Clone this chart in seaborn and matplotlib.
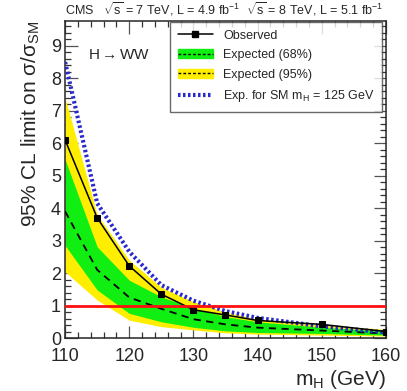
import numpy as np
import pandas as pd
import seaborn as sns
import matplotlib
matplotlib.use('Agg')
import matplotlib.pyplot as plt
from matplotlib.ticker import MultipleLocator
from matplotlib.lines import Line2D
from matplotlib.patches import Patch

# masses (GeV) and limits
mass = [110, 115, 120, 125, 130, 135, 140, 150, 160]
observed = [6.1, 3.7, 2.22, 1.35, 0.87, 0.71, 0.54, 0.42, 0.2]
expected = [3.9, 2.1, 1.25, 0.9, 0.58, 0.42, 0.32, 0.23, 0.14]
band68_lo = [2.85, 1.48, 0.76, 0.5, 0.33, 0.22, 0.17, 0.14, 0.09]
band68_hi = [5.5, 2.81, 1.78, 1.27, 0.92, 0.66, 0.5, 0.33, 0.22]
band95_lo = [2.04, 1.17, 0.55, 0.35, 0.25, 0.16, 0.12, 0.09, 0.06]
band95_hi = [7.4, 3.8, 2.4, 1.56, 1.12, 0.8, 0.58, 0.4, 0.27]
exp_sm125 = [8.5, 4.15, 2.66, 1.63, 1.15, 0.83, 0.62, 0.36, 0.17]

df = pd.DataFrame({'mass': mass, 'obs': observed, 'exp': expected,
                   'sm': exp_sm125})

sns.set_style('ticks')
plt.rcParams['font.family'] = ['Liberation Sans', 'DejaVu Sans']
plt.rcParams['mathtext.fontset'] = 'custom'
plt.rcParams['mathtext.rm'] = 'Liberation Sans'
plt.rcParams['mathtext.it'] = 'Liberation Sans'

fig = plt.figure(figsize=(4.07, 3.91), dpi=100)
ax = fig.add_axes([0.160, 0.1355, 0.788, 0.812])

yellow = '#ffee00'
green = '#11ee11'
ax.fill_between(mass, band95_lo, band95_hi, color=yellow, lw=0, zorder=1)
ax.fill_between(mass, band68_lo, band68_hi, color=green, lw=0, zorder=2)
sns.lineplot(data=df, x='mass', y='exp', ax=ax, color='black', lw=1.3,
             linestyle=(0, (4, 3)), zorder=3)
sns.lineplot(data=df, x='mass', y='sm', ax=ax, color='#2a2acc', lw=3,
             linestyle=(0, (0.6, 0.6)), zorder=4)
sns.lineplot(data=df, x='mass', y='obs', ax=ax, color='black', lw=1.1,
             marker='s', markersize=4.5, markeredgecolor='black', zorder=5)
ax.axhline(1, color='#ff1010', lw=2, zorder=6)

ax.set_xlim(110, 160)
ax.set_ylim(0, 9.78)
ax.xaxis.set_major_locator(MultipleLocator(10))
ax.xaxis.set_minor_locator(MultipleLocator(2))
ax.yaxis.set_major_locator(MultipleLocator(1))
ax.yaxis.set_minor_locator(MultipleLocator(0.2))
ax.tick_params(which='both', direction='in', top=True, right=True,
               labelsize=13)
ax.tick_params(axis='x', pad=7)
ax.tick_params(axis='y', pad=3)
ax.tick_params(which='major', length=9, width=0.9, color='#555555')
ax.tick_params(which='minor', length=4.5, width=0.9, color='#333333')
for s in ax.spines.values():
    s.set_linewidth(1.1)

ax.set_xlabel(r'm$_\mathregular{H}$ (GeV)', fontsize=15, loc='right',
              labelpad=2)
ax.set_ylabel(r'95% CL limit on $\sigma/\sigma_{\mathregular{SM}}$',
              fontsize=15, loc='top', labelpad=6)

fig.text(0.160, 0.963,
         r'CMS   $\sqrt{\mathregular{s}}$ = 7 TeV, L = 4.9 fb$^{-1}$  '
         r'$\sqrt{\mathregular{s}}$ = 8 TeV, L = 5.1 fb$^{-1}$',
         fontsize=9)
ax.text(0.07, 0.88, r'H$\rightarrow$WW', transform=ax.transAxes,
        fontsize=11)

handles = [
    Line2D([], [], color='black', lw=1.1, marker='s', markersize=4),
    (Patch(color=green), Line2D([], [], color='black', lw=1, linestyle=(0, (2, 1.5)))),
    (Patch(color=yellow), Line2D([], [], color='black', lw=1, linestyle=(0, (2, 1.5)))),
    Line2D([], [], color='#2a2acc', lw=3, linestyle=(0, (0.6, 0.6))),
]
labels = ['Observed', 'Expected (68%)', 'Expected (95%)',
          r'Exp. for SM m$_\mathregular{H}$ = 125 GeV']
leg = ax.legend(handles, labels, loc='upper right', fontsize=9,
                bbox_to_anchor=(0.988, 0.995), borderaxespad=0,
                frameon=True, fancybox=False,
                edgecolor='#444444', handlelength=2.8, borderpad=0.6,
                labelspacing=0.6, handletextpad=0.8)
leg.get_frame().set_linewidth(1)
leg.set_zorder(10)

fig.savefig('out.png', dpi=100)
